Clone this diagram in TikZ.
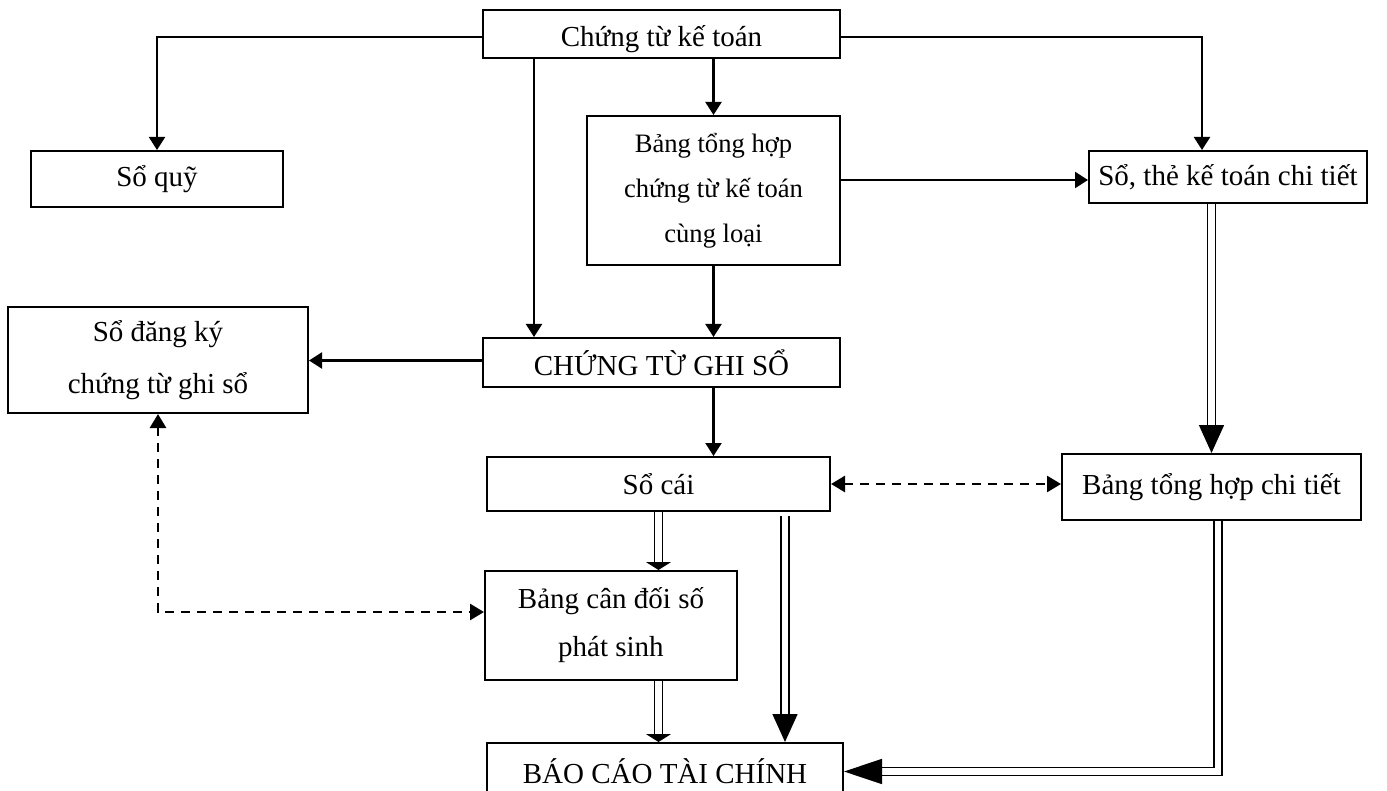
\documentclass[tikz,border=0pt]{standalone}
\usepackage{fontspec}
\setmainfont{Liberation Serif}
\usepackage{tikz}
\usetikzlibrary{positioning, arrows.meta, calc}

\begin{document}
\begin{tikzpicture}[
	x=0.5pt, y=-0.5pt, % one unit = one pixel of the sheet
	% Style for the boxes
	box/.style={
		rectangle,
		draw=black,
		line width=1pt,
		inner sep=0pt,
		align=center,
		font=\fontsize{14.5}{26}\selectfont
	},
	% Plain arrow
	flow/.style={
		-{Triangle[width=8pt,length=6.5pt]},
		line width=1.1pt
	},
	% Dashed two-way arrow
	link/.style={
		{Triangle[width=8pt,length=7pt]}-{Triangle[width=8pt,length=7pt]},
		line width=1.3pt,
		dash pattern=on 4.5pt off 3.5pt
	},
	% Double line arrow
	dflow/.style={
		-{Triangle[width=12.5pt,length=#1]},
		line width=0.75pt,
		double,
		double distance=3.2pt
	},
	dflow/.default=14pt
	]
	
	\useasboundingbox (0,0) rectangle (1387,791);
	
	% --- NODES ---
	
	\node[box, minimum width=178.5pt, minimum height=24pt, text height=13pt, text depth=0pt] (ctkt) at (661.5,34) {Chứng từ kế toán};
	\node[box, minimum width=126pt, minimum height=28pt] (squy) at (157,179) {Sổ quỹ};
	\node[box, minimum width=126.5pt, minimum height=74.5pt, font=\fontsize{13.3}{22.5}\selectfont] (bth) at (713.5,190.5) {Bảng tổng hợp\\chứng từ kế toán\\cùng loại};
	\node[box, minimum width=139pt, minimum height=26pt] (sthe) at (1228,177) {Sổ, thẻ kế toán chi tiết};
	\node[box, minimum width=150pt, minimum height=53pt] (sdk) at (158,360) {Sổ đăng ký\\chứng từ ghi sổ};
	\node[box, minimum width=178.5pt, minimum height=24.5pt] (ctgs) at (661.5,362.5) {CHỨNG TỪ GHI SỔ};
	\node[box, minimum width=171.5pt, minimum height=27pt] (scai) at (658.5,484) {Sổ cái};
	\node[box, minimum width=149.5pt, minimum height=33pt] (bthct) at (1211.5,487) {Bảng tổng hợp chi tiết};
	\node[box, minimum width=126pt, minimum height=54.5pt, font=\fontsize{14.5}{24}\selectfont] (bcd) at (611,625.5) {Bảng cân đối số\\phát sinh};
	\node[box, minimum width=178pt, minimum height=28.5pt] (bctc) at (665,771.5) {BÁO CÁO TÀI CHÍNH};
	
	% --- ARROWS ---
	
	% From the vouchers
	\draw[flow] ([yshift=-1.5pt]ctkt.west) -| (squy.north);
	\draw[flow] ([yshift=-1.5pt]ctkt.east) -| ([xshift=-13pt]sthe.north);
	\draw[flow] ([xshift=-63.75pt]ctkt.south) -- ([xshift=-63.75pt]ctgs.north);
	\draw[flow] (ctkt.south -| bth.north) -- (bth.north);
	
	% Summary table
	\draw[flow] (bth.south) -- (bth.south |- ctgs.north);
	\draw[flow] ([yshift=5.25pt]bth.east) -- ([yshift=5.25pt]bth.east -| sthe.west);
	
	% Voucher register and ledger
	\draw[flow] ([yshift=1pt]ctgs.west) -- ([yshift=1pt]ctgs.west -| sdk.east);
	\draw[flow] (ctgs.south -| bth.south) -- (bth.south |- scai.north);
	
	% Cross checks
	\draw[link] (scai.east) -- (scai.east -| bthct.west);
	\draw[link] (sdk.south) |- ([yshift=6.75pt]bcd.west);
	
	% Double lines
	\draw[dflow] (sthe.south -| bthct.north) -- (bthct.north);
	\draw[dflow=4pt] (scai.south) -- (scai.south |- bcd.north);
	\draw[dflow] ([xshift=63.25pt,yshift=-2pt]scai.south) -- ([xshift=63.25pt]scai.south |- bctc.north);
	\draw[dflow=4pt] (bcd.south -| scai.south) -- (scai.south |- bctc.north);
	\draw[dflow=19pt] ([xshift=3.25pt]bthct.south) |- (bctc.east);
	
\end{tikzpicture}
\end{document}
